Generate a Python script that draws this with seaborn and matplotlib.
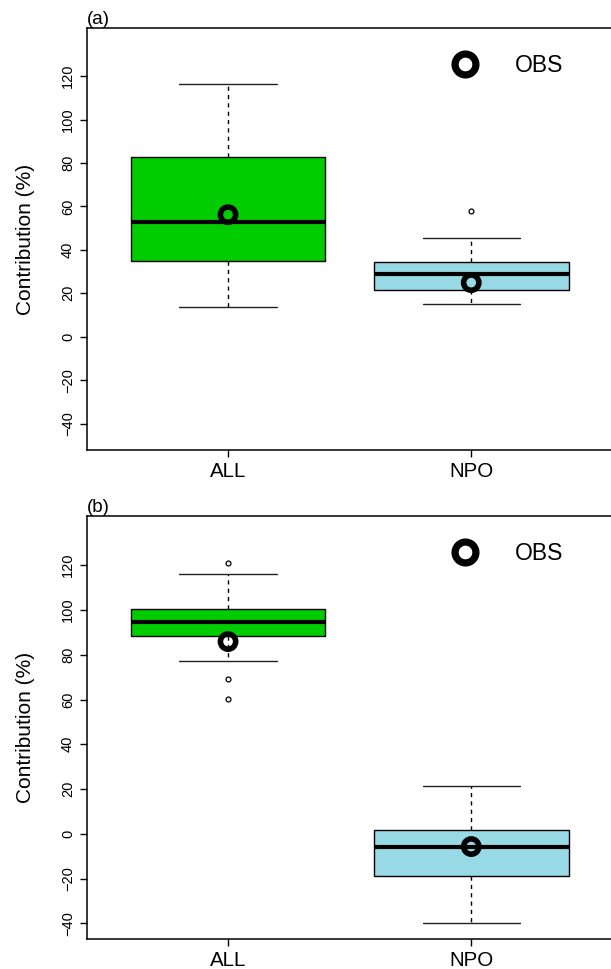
import matplotlib
matplotlib.use("Agg")
import matplotlib.pyplot as plt
from matplotlib.lines import Line2D
import seaborn as sns
import pandas as pd

# ---------------- data ----------------
groups = ["ALL", "NPO"]
# samples whose quartiles / whiskers / outliers reproduce the boxes
all_a = [13.5, 35.0, 53.0, 83.0, 116.5]
npo_a = [14.9, 21.5, 21.5, 28.9, 28.9, 34.6, 34.6, 45.6, 58.0]
all_b = [60.4, 69.3, 77.4, 88.3, 88.3, 94.7, 94.7, 94.7,
         100.5, 100.5, 100.5, 116.0, 121.1]
npo_b = [-40.0, -18.7, -6.0, 1.8, 21.5]
obs_a = [56.2, 24.9]
obs_b = [85.9, -5.7]
yticks = [-40, -20, 0, 20, 40, 60, 80, 100, 120]
panel_labels = ["(a)", "(b)"]
ylims = [(-52.2, 142.2), (-47.0, 142.0)]

colors = {"ALL": "#00CC00", "NPO": "#97D9E5"}

sns.set_theme(style="ticks")
plt.rcParams["font.family"] = ["Liberation Sans", "DejaVu Sans"]
for key in ["text.color", "axes.labelcolor", "xtick.color", "ytick.color",
            "xtick.labelcolor", "ytick.labelcolor", "axes.edgecolor"]:
    plt.rcParams[key] = "black"

W, H = 611, 969
fig = plt.figure(figsize=(W / 100, H / 100), dpi=100)

left = 87 / W
width = (612.3 - 87) / W
axes_pos = [
    [left, 1 - 450 / H, width, (450 - 28) / H],
    [left, 1 - 939 / H, width, (939 - 516) / H],
]

panels = [(all_a, npo_a, obs_a), (all_b, npo_b, obs_b)]

for i, (a_vals, n_vals, obs) in enumerate(panels):
    ax = fig.add_axes(axes_pos[i])
    df = pd.DataFrame({
        "group": ["ALL"] * len(a_vals) + ["NPO"] * len(n_vals),
        "value": a_vals + n_vals,
    })
    sns.boxplot(
        data=df, x="group", y="value", hue="group", order=groups,
        palette=colors, legend=False, width=0.8, saturation=1,
        whis=1.5, linecolor="black", linewidth=1.0, ax=ax,
        medianprops=dict(color="black", linewidth=3.0),
        whiskerprops=dict(color="black", linewidth=1.0, linestyle=(0, (3, 3))),
        capprops=dict(color="#222222", linewidth=1.0),
        flierprops=dict(marker="o", markersize=3.5, markerfacecolor="none",
                        markeredgecolor="black", markeredgewidth=0.9),
    )
    obs_df = pd.DataFrame({"group": groups, "value": obs})
    sns.scatterplot(
        data=obs_df, x="group", y="value", ax=ax, marker="o", s=121,
        facecolor="none", edgecolor="black", linewidth=4.0, zorder=5,
        legend=False,
    )
    handle = Line2D([], [], marker="o", linestyle="", markersize=15,
                    markeredgewidth=5.2, markerfacecolor="none",
                    markeredgecolor="black")
    ax.legend([handle], ["OBS"], loc="center left",
              bbox_to_anchor=(0.6986, 0.911), frameon=False,
              fontsize=16.5, handlelength=1.0, handletextpad=1.66,
              borderpad=0, borderaxespad=0, labelcolor="black")

    ax.set_xlim(-0.58, 1.58)
    ax.set_ylim(*ylims[i])
    ax.set_yticks(yticks)
    ax.set_xlabel("")
    ax.set_ylabel("Contribution (%)", fontsize=15, labelpad=19, color="black")
    ax.tick_params(axis="y", labelrotation=90, labelsize=10.5, length=5,
                   width=1.0, pad=3.6, color="black", labelcolor="black")
    ax.tick_params(axis="x", labelsize=14.8, length=5, width=1.0, pad=3.5,
                   color="black", labelcolor="black")
    for lab in ax.get_yticklabels():
        lab.set_verticalalignment("center")
    for s in ["left", "top", "bottom"]:
        ax.spines[s].set_visible(True)
        ax.spines[s].set_linewidth(1.1)
        ax.spines[s].set_color("black")
    ax.spines["right"].set_visible(False)
    ax.set_title(panel_labels[i], loc="left", fontsize=13.5, pad=3,
                 color="black")

fig.savefig("out.png", dpi=100)
